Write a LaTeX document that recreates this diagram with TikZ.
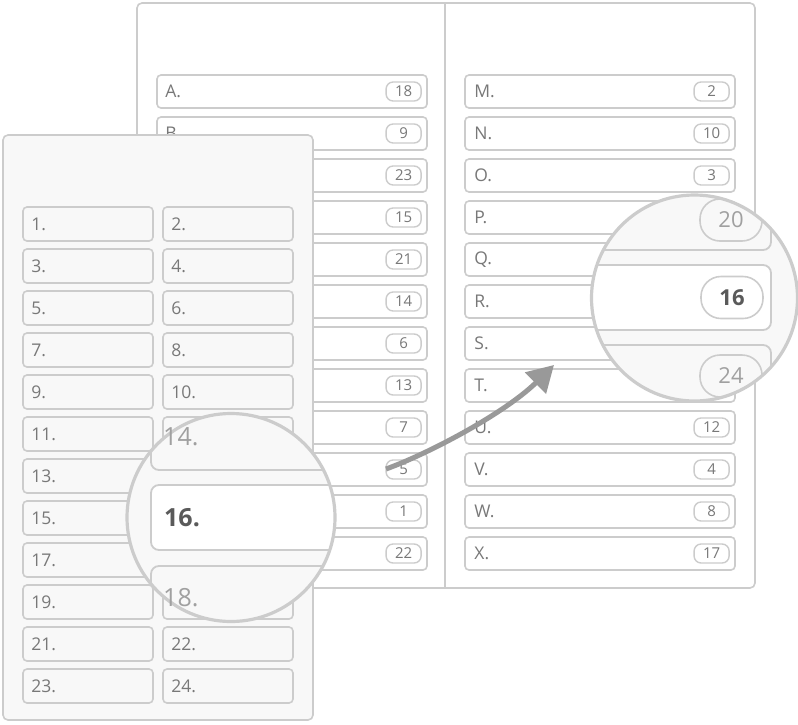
\documentclass[tikz,border=0pt]{standalone}
\usepackage{fontspec}
\setmainfont{Open Sans}
\usetikzlibrary{arrows.meta}
\definecolor{edge}{HTML}{CCCCCC}
\definecolor{txt}{HTML}{787878}
\definecolor{pale}{HTML}{F8F8F8}
\definecolor{arrowc}{HTML}{999999}
\definecolor{lighttxt}{HTML}{A0A0A0}
\definecolor{darktxt}{HTML}{5A5A5A}
\tikzset{
  panel/.style={draw=edge, line width=1.6pt, rounded corners=5pt, inner sep=0pt},
  rowbox/.style={draw=edge, line width=1.6pt, rounded corners=4pt, fill=white, inner sep=0pt, minimum height=33pt, minimum width=270pt},
  lrowbox/.style={draw=edge, line width=1.6pt, rounded corners=4pt, fill=pale, inner sep=0pt, minimum height=34pt, minimum width=130pt},
  badge/.style={draw=edge, line width=1.4pt, rounded corners=7pt, fill=white, minimum width=35pt, minimum height=19pt, inner sep=0pt, anchor=east, text=txt, font=\fontsize{15}{15}\selectfont},
  lbl/.style={anchor=west, inner sep=0pt, text=txt, font=\fontsize{17.5}{17.5}\selectfont},
  bigrow/.style={draw=edge, line width=1.8pt, rounded corners=8pt, fill=pale, inner sep=0pt, minimum height=65pt},
  bigbadge/.style={draw=edge, line width=1.6pt, rounded corners=20pt, fill=pale, inner sep=0pt, minimum width=62pt, minimum height=42pt, font=\fontsize{22}{22}\selectfont, text=lighttxt},
  biglbl/.style={anchor=west, inner sep=0pt, font=\fontsize{25}{25}\selectfont, text=lighttxt},
  lens/.style={draw=edge, line width=3.2pt}
}
\begin{document}
\begin{tikzpicture}[x=1pt,y=-1pt]
\useasboundingbox (0,0) rectangle (798,724);
\fill[white] (0,0) rectangle (798,724);

% back panel
\node[panel, fill=white, minimum width=618pt, minimum height=585pt] (back) at (446,295.5) {};
\draw[edge, line width=1.6pt] ([xshift=-1pt]back.north) -- ([xshift=-1pt]back.south);

% left column of back panel (labels C..L are hidden by the front panel)
\foreach \L/\n/\vis [count=\i from 0] in {A/18/1,B/9/1,C/23/0,D/15/0,E/21/0,F/14/0,G/6/0,H/13/0,I/7/0,J/5/0,K/1/0,L/22/0} {
  \node[rowbox] (b\L) at (292,{91.5+42*\i}) {};
  \ifnum\vis=1 \node[lbl] (t\L) at ([xshift=9pt]b\L.west) {\L.};\fi
  \node[badge] (n\L) at ([xshift=-6pt]b\L.east) {\n};
}
% right column (badges of P..T are hidden by the lens)
\foreach \L/\n [count=\i from 0] in {M/2,N/10,O/3,P/,Q/,R/,S/,T/,U/12,V/4,W/8,X/17} {
  \node[rowbox] (b\L) at (600,{91.5+42*\i}) {};
  \node[lbl] (t\L) at ([xshift=10pt]b\L.west) {\L.};
  \node[badge] (n\L) at ([xshift=-6pt]b\L.east) {\n};
}

% arrow
\coordinate (arS) at (386,469);
\coordinate (arE) at (554,365);
\draw[arrowc, line width=5pt, -{Triangle[length=26pt,width=29pt]}] (arS) .. controls (430,453) and (505,413) .. (arE);

% front panel
\node[panel, fill=pale, minimum width=310pt, minimum height=585pt] (front) at (158,427.5) {};
\foreach \i in {0,...,11} {
  \pgfmathtruncatemacro{\a}{2*\i+1}
  \pgfmathtruncatemacro{\b}{2*\i+2}
  \node[lrowbox] (f\a) at (88,{224+42*\i}) {};
  \node[lbl] (g\a) at ([xshift=9pt]f\a.west) {\a.};
  \node[lrowbox] (f\b) at (228,{224+42*\i}) {};
  \ifnum\b<12 \node[lbl] (g\b) at ([xshift=9pt]f\b.west) {\b.};\fi
  \ifnum\b>20 \node[lbl] (g\b) at ([xshift=9pt]f\b.west) {\b.};\fi
}

% right magnifier
\coordinate (rc) at (694.5,298);
\begin{scope}
  \clip (rc) circle[radius=103pt];
  \fill[pale] (rc) circle[radius=103pt];
  \node[bigrow, minimum width=240pt] (mQ) at (651,217.5) {};
  \node[bigbadge] (mQn) at (731,220) {20};
  \node[bigrow, fill=white, minimum width=240pt] (mR) at (651,297.5) {};
  \node[bigbadge, fill=white, text=darktxt, font=\fontsize{22}{22}\selectfont\bfseries] (mRn) at (732,297.5) {16};
  \node[bigrow, minimum width=240pt] (mS) at (651,377.5) {};
  \node[bigbadge] (mSn) at (731,376) {24};
\end{scope}
\draw[lens] (rc) circle[radius=103pt];

% left magnifier
\coordinate (lc) at (231,517.5);
\begin{scope}
  \clip (lc) circle[radius=104pt];
  \fill[pale] (lc) circle[radius=104pt];
  \node[bigrow, minimum width=240pt] (m14) at (271,437.5) {};
  \node[bigrow, fill=white, minimum width=240pt] (m16) at (271,517.5) {};
  \node[bigrow, minimum width=240pt] (m18) at (271,598.5) {};
\end{scope}
\draw[lens] (lc) circle[radius=104pt];
\node[biglbl] (m14t) at (163,437) {14.};
\node[biglbl, text=darktxt, font=\fontsize{25}{25}\selectfont\bfseries] (m16t) at (164,517.5) {16.};
\node[biglbl] (m18t) at (163,598) {18.};
\end{tikzpicture}
\end{document}
